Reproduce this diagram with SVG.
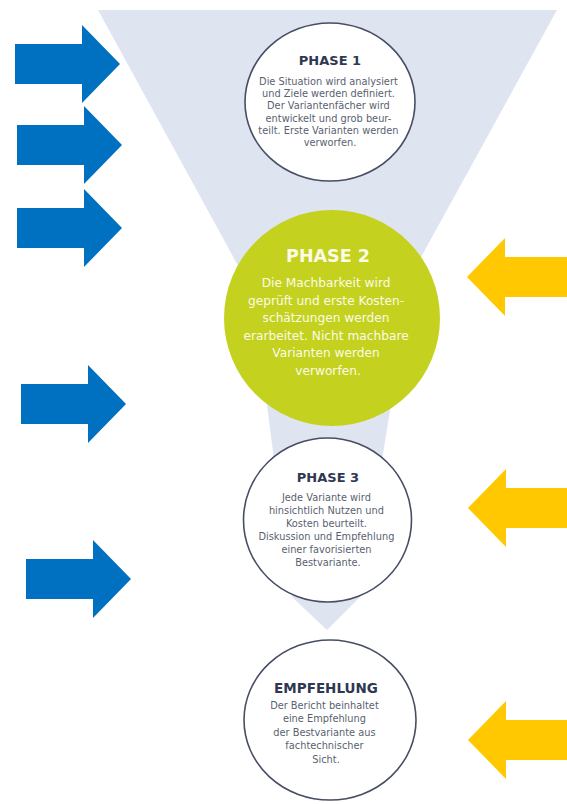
<svg xmlns="http://www.w3.org/2000/svg" width="567" height="804" viewBox="0 0 567 804">
  <style>
    .funnel { fill: #dfe4f1; }
    .ring { fill: #ffffff; stroke: #474e63; stroke-width: 1.6; }
    .green { fill: #c4d21f; }
    .head { font-family: "DejaVu Sans", "Liberation Sans", sans-serif; font-weight: bold; fill: #2e3852; text-anchor: middle; }
    .body { font-family: "DejaVu Sans", "Liberation Sans", sans-serif; fill: #595f70; text-anchor: middle; }
    .head-w { font-family: "DejaVu Sans", "Liberation Sans", sans-serif; font-weight: bold; fill: #fbfbe6; text-anchor: middle; }
    .body-w { font-family: "DejaVu Sans", "Liberation Sans", sans-serif; fill: #fbfbe6; text-anchor: middle; }
    .blue { fill: #0070c0; }
    .gold { fill: #ffc800; }
  </style>
  <defs>
    <!-- block arrow pointing right, origin at the tip -->
    <path id="arrow-right" d="M0 0 L-38 -39 L-38 -20 L-105 -20 L-105 20 L-38 20 L-38 39 Z"/>
    <!-- block arrow pointing left, origin at the tip, shaft runs off the right edge -->
    <path id="arrow-left" d="M0 0 L38 -39 L38 -20 L110 -20 L110 20 L38 20 L38 39 Z"/>
  </defs>

  <rect width="567" height="804" fill="#ffffff"/>

  <!-- funnel background -->
  <g id="funnel">
    <polygon class="funnel" points="98,10 557,10 327,428"/>
    <polygon class="funnel" points="266,398 392,398 360,597 327,630 292,597"/>
  </g>

  <!-- input / feedback arrows -->
  <g id="connectors">
    <use href="#arrow-right" class="blue" x="120" y="64"/>
    <use href="#arrow-right" class="blue" x="122" y="145"/>
    <use href="#arrow-right" class="blue" x="122" y="228"/>
    <use href="#arrow-right" class="blue" x="126" y="404"/>
    <use href="#arrow-right" class="blue" x="131" y="579"/>
    <use href="#arrow-left" class="gold" x="467" y="277"/>
    <use href="#arrow-left" class="gold" x="468" y="508"/>
    <use href="#arrow-left" class="gold" x="468" y="740"/>
  </g>

  <g id="phase1">
    <ellipse class="ring" cx="330" cy="102" rx="85" ry="79"/>
    <text class="head" x="330" y="65" font-size="13">PHASE 1</text>
    <text class="body" font-size="9.8">
      <tspan x="330" y="85">Die Situation wird analysiert</tspan>
      <tspan x="330" y="97.2">und Ziele werden definiert.</tspan>
      <tspan x="330" y="109.4">Der Variantenfächer wird</tspan>
      <tspan x="330" y="121.6">entwickelt und grob beur-</tspan>
      <tspan x="330" y="133.8">teilt. Erste Varianten werden</tspan>
      <tspan x="330" y="146">verworfen.</tspan>
    </text>
  </g>

  <g id="phase2">
    <circle class="green" cx="332" cy="318" r="108"/>
    <text class="head-w" x="328" y="262" font-size="17.5">PHASE 2</text>
    <text class="body-w" font-size="12.2">
      <tspan x="328" y="287">Die Machbarkeit wird</tspan>
      <tspan x="328" y="304.5">geprüft und erste Kosten-</tspan>
      <tspan x="328" y="322">schätzungen werden</tspan>
      <tspan x="328" y="339.5">erarbeitet. Nicht machbare</tspan>
      <tspan x="328" y="357">Varianten werden</tspan>
      <tspan x="328" y="374.5">verworfen.</tspan>
    </text>
  </g>

  <g id="phase3">
    <ellipse class="ring" cx="327.5" cy="520" rx="84" ry="82"/>
    <text class="head" x="328" y="481.5" font-size="13">PHASE 3</text>
    <text class="body" font-size="9.8">
      <tspan x="328" y="500.5">Jede Variante wird</tspan>
      <tspan x="328" y="513.5">hinsichtlich Nutzen und</tspan>
      <tspan x="328" y="526.5">Kosten beurteilt.</tspan>
      <tspan x="328" y="539.5">Diskussion und Empfehlung</tspan>
      <tspan x="328" y="552.5">einer favorisierten</tspan>
      <tspan x="328" y="565.5">Bestvariante.</tspan>
    </text>
  </g>

  <g id="empfehlung">
    <ellipse class="ring" cx="330" cy="720" rx="86" ry="80"/>
    <text class="head" x="326" y="692.5" font-size="13.5">EMPFEHLUNG</text>
    <text class="body" font-size="9.8">
      <tspan x="326" y="708.5">Der Bericht beinhaltet</tspan>
      <tspan x="326" y="722">eine Empfehlung</tspan>
      <tspan x="326" y="735.5">der Bestvariante aus</tspan>
      <tspan x="326" y="749">fachtechnischer</tspan>
      <tspan x="326" y="762.5">Sicht.</tspan>
    </text>
  </g>
</svg>
